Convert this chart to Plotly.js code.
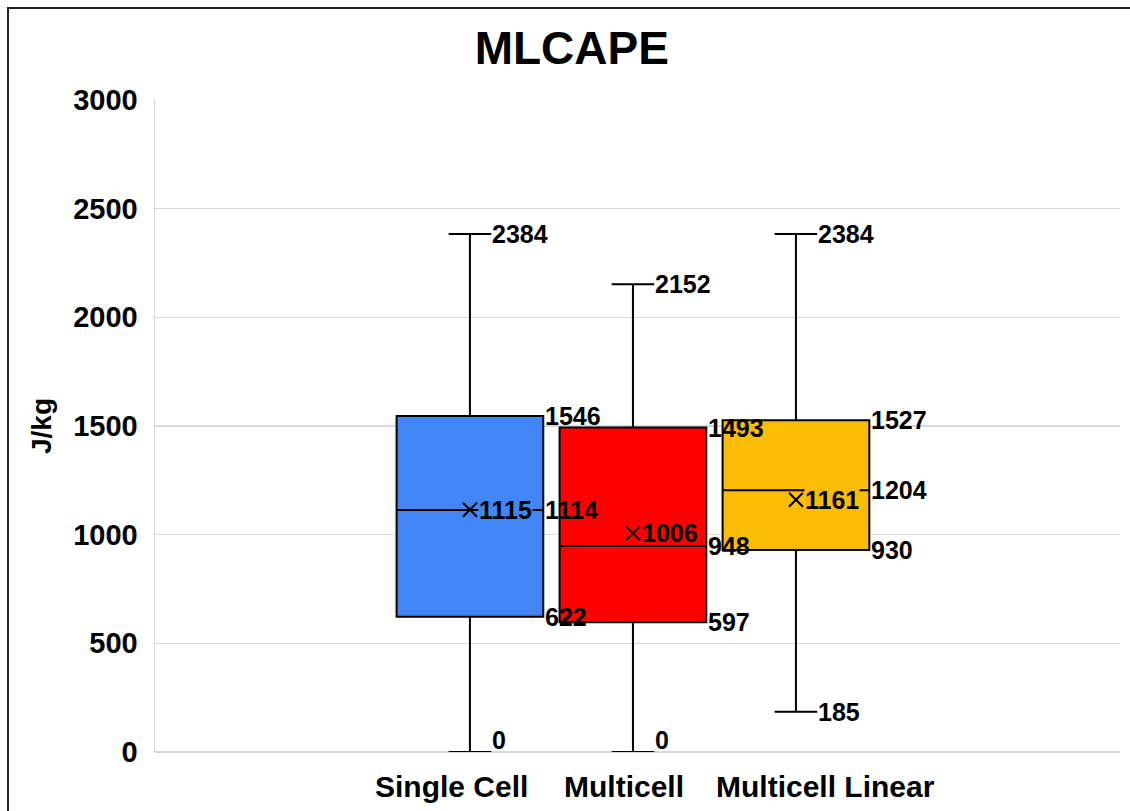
<!DOCTYPE html>
<html>
<head>
<meta charset="utf-8">
<script src="https://cdn.plot.ly/plotly-3.0.1.min.js"></script>
<style>
  html, body { margin: 0; padding: 0; background: #fff; overflow: hidden; }
  #chart { position: absolute; left: 0; top: 0; width: 1130px; height: 811px; }
  #frame { position: absolute; left: 7px; top: 7px; width: 1200px; height: 900px;
           border-left: 2px solid #222; border-top: 2px solid #222; pointer-events: none; }
</style>
</head>
<body>
<div id="chart"></div>
<div id="frame"></div>
<script>
// ---- data ----
const categories = ['Single Cell', 'Multicell', 'Multicell Linear'];
const minVals    = [0, 0, 185];
const q1Vals     = [622, 597, 930];
const medianVals = [1114, 948, 1204];
const q3Vals     = [1546, 1493, 1527];
const maxVals    = [2384, 2152, 2384];
const meanVals   = [1115, 1006, 1161];
const boxColors  = ['#4285F4', '#FF0000', '#FBBC04'];
const yTickVals  = [0, 500, 1000, 1500, 2000, 2500, 3000];
const yTickText  = ['0', '500', '1000', '1500', '2000', '2500', '3000'];
const chartTitle = 'MLCAPE';
const yTitle     = 'J/kg';

const FONT = 'Liberation Sans, Arial, sans-serif';
const labelFont = { family: FONT, size: 25, color: '#000', weight: 'bold' };

const traces = categories.map((c, i) => ({
  type: 'box',
  x: [c],
  q1: [q1Vals[i]],
  median: [medianVals[i]],
  q3: [q3Vals[i]],
  lowerfence: [minVals[i]],
  upperfence: [maxVals[i]],
  boxpoints: false,
  width: 0.9,
  whiskerwidth: 0.29,
  fillcolor: boxColors[i],
  line: { color: '#000', width: 2 },
  hoverinfo: 'skip'
}));

traces.push({
  type: 'scatter',
  mode: 'markers',
  x: categories,
  y: meanVals,
  marker: { symbol: 'x-thin', size: 14, color: '#000', line: { color: '#000', width: 2 } },
  hoverinfo: 'skip'
});

const annotations = [];
const yMin = yTickVals[0];
categories.forEach((c, i) => {
  const base = { x: c, xref: 'x', yref: 'y', showarrow: false, xanchor: 'left', font: labelFont, borderpad: 0 };
  annotations.push(Object.assign({}, base, { y: maxVals[i], text: String(maxVals[i]), xshift: 21, yanchor: 'middle' }));
  annotations.push(Object.assign({}, base, { y: q3Vals[i], text: String(q3Vals[i]), xshift: 74, yanchor: 'middle' }));
  annotations.push(Object.assign({}, base, { y: medianVals[i], text: String(medianVals[i]), xshift: 74, yanchor: 'middle' }));
  annotations.push(Object.assign({}, base, { y: q1Vals[i], text: String(q1Vals[i]), xshift: 74, yanchor: 'middle' }));
  annotations.push(Object.assign({}, base, { y: minVals[i], text: String(minVals[i]), xshift: 21,
      yanchor: minVals[i] <= yMin ? 'bottom' : 'middle', height: 22 }));
  annotations.push(Object.assign({}, base, { y: meanVals[i], text: String(meanVals[i]), xshift: 8, yanchor: 'middle',
      bgcolor: boxColors[i], height: 22 }));
});

// category labels under the axis (Excel nudges them sideways)
const catShift = [-18, -9, 30];
categories.forEach((c, i) => {
  annotations.push({ x: c, xref: 'x', y: 0, yref: 'paper', yanchor: 'top', yshift: -16, xshift: catShift[i],
    xanchor: 'center', showarrow: false, text: c, font: { family: FONT, size: 30, color: '#000', weight: 'bold' } });
});

// y axis title
annotations.push({ x: 0, xref: 'paper', xshift: -114, xanchor: 'center', y: 0.5, yref: 'paper', yanchor: 'middle',
  textangle: -90, showarrow: false, text: yTitle, font: { family: FONT, size: 28, color: '#000', weight: 'bold' } });

const layout = {
  width: 1130, height: 811,
  margin: { l: 155, r: 10, t: 100, b: 59 },
  paper_bgcolor: '#fff', plot_bgcolor: '#fff',
  showlegend: false,
  boxmode: 'overlay',
  title: { text: chartTitle, font: { family: FONT, size: 46, color: '#000', weight: 'bold' },
           x: 0.506, xref: 'container', xanchor: 'center', y: 0.941, yref: 'container', yanchor: 'middle' },
  xaxis: { type: 'category', range: [-1.932, 3.988], showticklabels: false, showgrid: false,
           zeroline: false, showline: false, ticks: '', fixedrange: true },
  yaxis: { range: [0, 3000], tickvals: yTickVals, ticktext: yTickText, showgrid: true, gridcolor: '#d9d9d9', gridwidth: 1.5,
           zeroline: true, zerolinecolor: '#d9d9d9', zerolinewidth: 1.5, showline: true, linecolor: '#d9d9d9', linewidth: 1.5,
           ticks: '', ticklabelstandoff: 10,
           tickfont: { family: FONT, size: 29, color: '#000', weight: 'bold' }, fixedrange: true },
  annotations: annotations
};

Plotly.newPlot('chart', traces, layout, { displayModeBar: false, staticPlot: true });
</script>
</body>
</html>
